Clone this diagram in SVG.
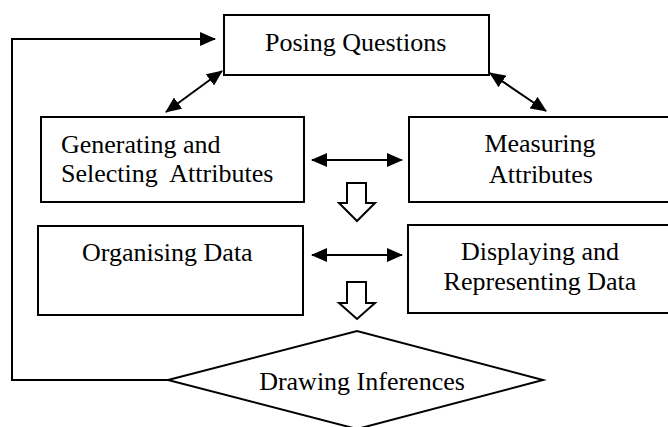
<svg xmlns="http://www.w3.org/2000/svg" width="668" height="427" viewBox="0 0 668 427">
  <style>
    .box { fill: #fff; stroke: #000; stroke-width: 2; }
    .lbl { font-family: "Liberation Serif", "Times New Roman", serif; font-size: 26px; fill: #000; white-space: pre; }
    .mid { text-anchor: middle; }
    .link { fill: none; stroke: #000; stroke-width: 2; }
    .block { fill: #fff; stroke: #000; stroke-width: 2; stroke-linejoin: miter; }
  </style>
  <defs>
    <marker id="head" viewBox="0 0 16 14" refX="15" refY="7" markerWidth="16" markerHeight="14" markerUnits="userSpaceOnUse" orient="auto-start-reverse">
      <path d="M0,0 L16,7 L0,14 Z" fill="#000"/>
    </marker>
  </defs>

  <rect width="668" height="427" fill="#fff"/>

  <!-- nodes -->
  <g id="posing">
    <rect class="box" x="224" y="15" width="265" height="60"/>
    <text class="lbl" x="265" y="51">Posing Questions</text>
  </g>
  <g id="generating">
    <rect class="box" x="41" y="117" width="263" height="85"/>
    <text class="lbl" x="61" y="153">Generating and</text>
    <text class="lbl" x="61" y="182">Selecting  Attributes</text>
  </g>
  <g id="measuring">
    <rect class="box" x="409" y="117" width="262" height="85"/>
    <text class="lbl mid" x="540" y="152">Measuring</text>
    <text class="lbl mid" x="541" y="183">Attributes</text>
  </g>
  <g id="organising">
    <rect class="box" x="38" y="226" width="265" height="89"/>
    <text class="lbl" x="82" y="261">Organising Data</text>
  </g>
  <g id="displaying">
    <rect class="box" x="408" y="225" width="263" height="88"/>
    <text class="lbl mid" x="540" y="260">Displaying and</text>
    <text class="lbl mid" x="540" y="290">Representing Data</text>
  </g>
  <g id="drawing">
    <polygon class="box" points="168,380 357,331 543,380 357,429"/>
    <text class="lbl mid" x="362" y="390">Drawing Inferences</text>
  </g>

  <!-- connectors -->
  <g id="connectors">
    <polyline class="link" points="168,380 12,380 12,39 215,39" marker-end="url(#head)"/>
    <line class="link" x1="222" y1="71" x2="166" y2="112" marker-start="url(#head)" marker-end="url(#head)"/>
    <line class="link" x1="490" y1="73" x2="546" y2="111" marker-start="url(#head)" marker-end="url(#head)"/>
    <line class="link" x1="312" y1="160" x2="402" y2="160" marker-start="url(#head)" marker-end="url(#head)"/>
    <line class="link" x1="312" y1="255" x2="402" y2="255" marker-start="url(#head)" marker-end="url(#head)"/>
    <polygon class="block" points="347,183 366,183 366,203 375,203 357,221 339,203 347,203"/>
    <polygon class="block" points="347,282 366,282 366,303 375,303 357,319 339,303 347,303"/>
  </g>
</svg>
